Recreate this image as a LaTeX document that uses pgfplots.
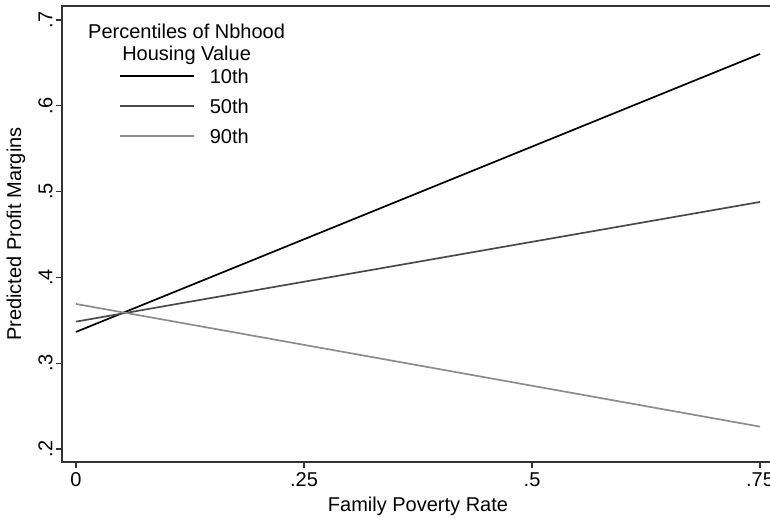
\documentclass[border=0pt]{standalone}
\usepackage{fontspec}
\setmainfont{Liberation Sans}
\usepackage{pgfplots}
\pgfplotsset{compat=1.18}
\definecolor{c50}{HTML}{4A4A4A}
\definecolor{c90}{HTML}{8C8C8C}
\definecolor{frame}{HTML}{333333}
\begin{document}
\begin{tikzpicture}
\begin{axis}[
  at={(62pt,56pt)}, anchor=south west,
  scale only axis, width=712pt, height=456pt,
  xmin=-0.01535, xmax=0.7653, ymin=0.1848, ymax=0.7163,
  xtick={0,0.25,0.5,0.75}, xticklabels={0,.25,.5,.75},
  ytick={0.2,0.3,0.4,0.5,0.6,0.7}, yticklabels={.2,.3,.4,.5,.6,.7},
  tick align=outside, major tick length=6pt,
  xtick pos=lower, ytick pos=left,
  axis line style={line width=1.2pt, frame},
  tick style={line width=1.2pt, frame},
  font=\fontsize{20}{24}\selectfont,
  yticklabel style={rotate=90, anchor=south},
  xticklabel style={yshift=-1.5pt},
  xlabel={Family Poverty Rate}, ylabel={Predicted Profit Margins},
  xlabel style={at={([yshift=-44pt]rel axis cs:0.5,0)}, anchor=center},
  ylabel style={at={([xshift=-46pt]rel axis cs:0,0.5)}, anchor=center},
  legend image code/.code={\draw[#1] (0pt,0pt) -- (74pt,0pt); \path (89pt,0pt);},
  legend cell align=left,
  legend style={at={(0.080,0.862)}, anchor=north west, draw=none, fill=none,
    inner sep=0pt, row sep=16pt,
    nodes={inner sep=0pt, text height=14pt, text depth=0pt}},
]
\addplot[black, line width=1.7pt] coordinates {(0,0.3364) (0.75,0.6604)};
\addlegendentry{10th}
\addplot[c50, line width=1.7pt] coordinates {(0,0.3484) (0.75,0.4879)};
\addlegendentry{50th}
\addplot[c90, line width=1.7pt] coordinates {(0,0.369) (0.75,0.226)};
\addlegendentry{90th}
\node[align=center, font=\fontsize{20}{22}\selectfont, anchor=center] at (rel axis cs:0.175,0.9165) {Percentiles of Nbhood\\Housing Value};
\end{axis}
\pgfresetboundingbox
\path[use as bounding box] (0,0) rectangle (770pt,518pt);
\end{tikzpicture}
\end{document}
